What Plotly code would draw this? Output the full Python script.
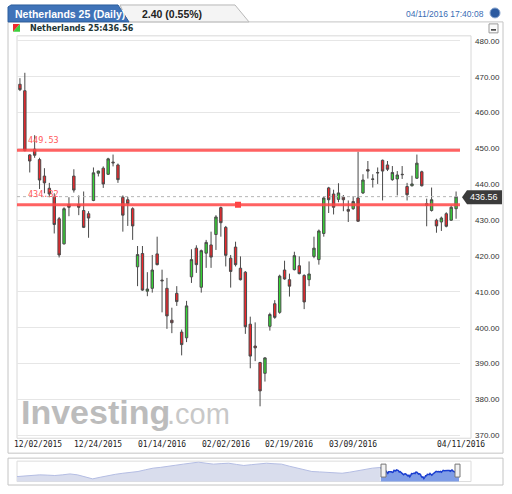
import pandas as pd
import numpy as np
import plotly.graph_objects as go

W, H = 512, 494

# trading days shown
days = pd.bdate_range("2015-12-02", "2016-04-11")
holidays = ["2015-12-25", "2016-01-01", "2016-03-25", "2016-03-28"]
days = [d for d in days if d.strftime("%Y-%m-%d") not in holidays]
dates = [d.strftime("%m/%d/%Y") for d in days]

opens = [467.9, 466.1, 448.2, 449.8, 446.9, 442.3, 438.9, 436.6, 430.4, 423.4,
         434.4, 442.3, 434.4, 432.7, 431.8, 435.5, 443.1, 444.5, 442.8, 446.2,
         445.4, 436.4, 435.7, 433.2, 417.0, 420.7, 410.2, 411.0, 420.6, 413.3,
         411.0, 402.1, 409.6, 398.8, 397.2, 414.2, 422.2, 411.3, 420.8, 423.1,
         426.0, 433.5, 428.0, 419.4, 422.5, 416.6, 415.5, 401.0, 394.9, 390.3,
         387.3, 400.4, 406.7, 404.3, 416.1, 413.4, 416.2, 417.3, 414.6, 413.4,
         419.9, 419.0, 426.3, 439.0, 437.3, 435.8, 436.4, 433.0, 433.2, 436.2,
         437.6, 444.1, 441.5, 443.3, 446.7, 445.4, 441.3, 441.5, 442.8, 439.4,
         439.6, 441.7, 443.5, 434.6, 432.7, 430.0, 429.5, 431.8, 430.0, 433.2]
highs = [469.6, 471.1, 448.4, 453.7, 447.4, 444.5, 440.4, 437.5, 430.9, 433.6,
         436.4, 444.2, 436.9, 438.0, 432.5, 444.7, 443.8, 445.0, 447.4, 448.3,
         445.8, 436.9, 436.5, 433.6, 422.8, 422.8, 415.5, 420.3, 425.4, 416.2,
         413.9, 405.6, 411.6, 399.5, 407.5, 421.9, 423.0, 421.8, 424.5, 426.8,
         431.4, 433.8, 428.4, 420.3, 424.0, 419.9, 415.8, 403.1, 401.5, 390.5,
         391.8, 404.2, 407.7, 414.8, 418.7, 415.1, 421.2, 419.9, 414.9, 418.5,
         425.4, 427.4, 436.6, 439.3, 438.5, 440.3, 437.0, 435.5, 436.7, 449.1,
         442.8, 446.5, 442.8, 444.7, 446.9, 446.5, 445.1, 443.7, 445.1, 440.4,
         442.4, 448.3, 443.8, 436.0, 439.1, 430.4, 431.0, 432.2, 434.1, 438.0]
lows = [466.0, 449.2, 443.3, 447.4, 438.7, 437.5, 436.4, 426.3, 419.6, 423.2,
        431.1, 437.7, 431.4, 427.8, 425.1, 435.3, 442.2, 439.0, 442.6, 445.0,
        440.4, 426.8, 428.4, 424.5, 411.6, 410.3, 408.8, 409.8, 417.4, 404.3,
        399.7, 398.5, 406.1, 392.3, 396.0, 412.5, 415.3, 409.8, 416.7, 416.7,
        421.7, 425.4, 417.1, 411.2, 417.1, 413.2, 398.3, 388.7, 390.7, 378.1,
        385.0, 399.2, 402.5, 403.9, 413.4, 408.7, 416.0, 414.9, 405.2, 411.6,
        419.4, 417.6, 425.4, 432.0, 431.6, 435.0, 432.5, 429.5, 432.9, 429.6,
        437.3, 441.6, 439.1, 440.1, 435.5, 443.7, 441.0, 436.9, 441.5, 435.5,
        439.4, 441.5, 439.4, 428.3, 432.4, 426.5, 427.0, 428.0, 429.8, 430.4]
closes = [466.4, 449.4, 446.5, 448.1, 441.2, 440.4, 437.3, 428.8, 420.3, 433.2,
          433.6, 438.4, 433.6, 428.0, 430.6, 443.2, 443.7, 440.1, 447.1, 446.0,
          441.3, 431.4, 434.6, 428.4, 420.4, 410.5, 410.8, 416.1, 417.6, 413.1,
          403.3, 401.4, 407.3, 395.3, 406.1, 419.0, 417.6, 421.5, 423.8, 419.7,
          430.9, 429.3, 420.2, 415.7, 417.6, 413.4, 400.3, 392.1, 394.4, 382.4,
          391.6, 403.7, 402.9, 414.4, 413.6, 411.6, 420.1, 415.1, 407.2, 415.0,
          422.2, 427.0, 436.2, 435.7, 433.6, 437.6, 435.7, 432.5, 435.2, 429.7,
          441.2, 443.7, 441.4, 443.2, 443.7, 444.2, 443.3, 442.6, 442.7, 437.1,
          440.1, 445.9, 439.6, 434.1, 435.7, 428.4, 430.6, 428.3, 433.6, 436.56]

# navigator history before the visible window (approx. levels)
nav_hist = [397, 401, 405, 410, 408, 405, 410, 417, 410, 397, 380, 392, 405, 414,
            422, 428, 435, 448, 460, 466, 472, 482, 490, 498, 505, 497, 490, 494,
            497, 488, 480, 486, 490, 497, 493, 490, 475, 460, 447, 435, 432, 430,
            426, 422, 430, 440, 452, 460, 465]

tick_dates = ["12/02/2015", "12/24/2015", "01/14/2016", "02/02/2016",
              "02/19/2016", "03/09/2016", "04/11/2016"]
y_ticks = [370, 380, 390, 400, 410, 420, 430, 440, 450, 460, 470, 480]
levels = [449.53, 434.32]
last_price = 436.56


def X(px):
    return px / W


def Y(py):
    return 1 - py / H


idx = list(range(len(dates)))

fig = go.Figure()

fig.add_trace(go.Candlestick(
    x=idx, open=opens, high=highs, low=lows, close=closes,
    increasing=dict(fillcolor="#36d636", line=dict(color="#4a4a4a", width=1)),
    decreasing=dict(fillcolor="#f0262b", line=dict(color="#4a4a4a", width=1)),
    whiskerwidth=0, showlegend=False, hoverinfo="skip"))

# alert marker on lower level
fig.add_trace(go.Scatter(x=[44.5], y=[levels[1]], mode="markers",
                         marker=dict(symbol="square", size=6, color="#ff4040"),
                         showlegend=False, hoverinfo="skip"))

# navigator
hist_x = np.linspace(-414, -1, len(nav_hist))
fig.add_trace(go.Scatter(x=hist_x, y=nav_hist, xaxis="x2", yaxis="y2",
                         mode="lines", line=dict(color="#b4bde3", width=1),
                         fill="tozeroy", fillcolor="#d9dded",
                         showlegend=False, hoverinfo="skip"))
fig.add_trace(go.Scatter(x=idx, y=closes, xaxis="x2", yaxis="y2",
                         mode="lines", line=dict(color="#1b3fd0", width=1.5),
                         fill="tozeroy", fillcolor="#7f9de6",
                         showlegend=False, hoverinfo="skip"))

shapes = []
# outer panels
shapes.append(dict(type="rect", xref="paper", yref="paper", x0=X(8), x1=X(503),
                   y0=Y(455), y1=Y(22), line=dict(color="#c4c4c4", width=1),
                   fillcolor="white", layer="below"))
shapes.append(dict(type="rect", xref="paper", yref="paper", x0=X(17), x1=X(471),
                   y0=Y(440), y1=Y(36), line=dict(color="#d8d8d8", width=1),
                   layer="below"))
shapes.append(dict(type="rect", xref="paper", yref="paper", x0=X(8), x1=X(503),
                   y0=Y(487), y1=Y(460), line=dict(color="#c4c4c4", width=1),
                   fillcolor="white", layer="below"))
shapes.append(dict(type="rect", xref="paper", yref="paper", x0=X(17), x1=X(471),
                   y0=Y(483.5), y1=Y(463), line=dict(color="#dcdcdc", width=1),
                   layer="below"))
# header tabs
shapes.append(dict(type="path", xref="paper", yref="paper",
                   path=f"M{X(120)},{Y(5)} L{X(235)},{Y(5)} L{X(249)},{Y(22)} L{X(128)},{Y(22)} Z",
                   fillcolor="#f4f4f4", line=dict(color="#b8b8b8", width=1)))
shapes.append(dict(type="path", xref="paper", yref="paper",
                   path=f"M{X(8)},{Y(22)} L{X(8)},{Y(7)} L{X(11)},{Y(5)} L{X(118)},{Y(5)} L{X(129)},{Y(22)} Z",
                   fillcolor="#3f73b8", line=dict(color="#2c5e9e", width=1)))
# small icons
shapes.append(dict(type="path", xref="paper", yref="paper",
                   path=f"M{X(13)},{Y(24)} L{X(20)},{Y(24)} L{X(13)},{Y(32)} Z",
                   fillcolor="#ee2a2e", line=dict(width=0)))
shapes.append(dict(type="path", xref="paper", yref="paper",
                   path=f"M{X(20)},{Y(24)} L{X(20)},{Y(32)} L{X(13)},{Y(32)} Z",
                   fillcolor="#3ccf3c", line=dict(width=0)))
shapes.append(dict(type="rect", xref="paper", yref="paper", x0=X(489), x1=X(498),
                   y0=Y(33), y1=Y(24), fillcolor="#fafafa",
                   line=dict(color="#9a9a9a", width=1)))
shapes.append(dict(type="line", xref="paper", yref="paper", x0=X(491), x1=X(496),
                   y0=Y(30), y1=Y(30), line=dict(color="#333", width=1.5)))
shapes.append(dict(type="circle", xref="paper", yref="paper", x0=X(490), x1=X(500),
                   y0=Y(18), y1=Y(8), fillcolor="#2b5aa0",
                   line=dict(color="#8aa6cf", width=1)))
# level lines and last price line
for lv in levels:
    shapes.append(dict(type="line", xref="x", yref="y", x0=-0.6, x1=89.8,
                       y0=lv, y1=lv, line=dict(color="rgba(255,70,70,0.85)", width=3)))
shapes.append(dict(type="line", xref="x", yref="y", x0=-0.6, x1=89.8,
                   y0=last_price, y1=last_price,
                   line=dict(color="#b5b5b5", width=1, dash="dot")))
# last price tag
shapes.append(dict(type="path", xref="paper", yref="paper",
                   path=f"M{X(462)},{Y(198)} L{X(467)},{Y(191)} L{X(502)},{Y(191)} L{X(502)},{Y(205)} L{X(467)},{Y(205)} Z",
                   fillcolor="#3b3b3b", line=dict(width=0)))
# navigator handles
for hx in (383.5, 457.5):
    shapes.append(dict(type="rect", xref="paper", yref="paper", x0=X(hx - 2.5),
                       x1=X(hx + 2.5), y0=Y(479), y1=Y(466), fillcolor="#f2f2f2",
                       line=dict(color="#777", width=1)))

ann = []
ann.append(dict(text="<b>Netherlands 25 (Daily)</b>", x=X(13), y=Y(14), xref="paper",
                yref="paper", xanchor="left", yanchor="middle", showarrow=False,
                font=dict(family="Liberation Sans", size=10.5, color="white")))
ann.append(dict(text="<b>2.40 (0.55%)</b>", x=X(140), y=Y(14), xref="paper",
                yref="paper", xanchor="left", yanchor="middle", showarrow=False,
                font=dict(family="Liberation Sans", size=10.5, color="#222")))
ann.append(dict(text="04/11/2016 17:40:08", x=X(486), y=Y(14), xref="paper",
                yref="paper", xanchor="right", yanchor="middle", showarrow=False,
                font=dict(family="Liberation Sans", size=8.5, color="#3a6db5")))
ann.append(dict(text="<b>Netherlands 25:436.56</b>", x=X(28), y=Y(28.5), xref="paper",
                yref="paper", xanchor="left", yanchor="middle", showarrow=False,
                font=dict(family="DejaVu Sans", size=8, color="#1d3535")))
# watermark
ann.append(dict(text="<b>Investing</b>", x=X(19), y=Y(414), xref="paper",
                yref="paper", xanchor="left", yanchor="middle", showarrow=False,
                font=dict(family="Liberation Sans", size=34, color="#bcbcbc")))
ann.append(dict(text=".com", x=X(165), y=Y(416), xref="paper",
                yref="paper", xanchor="left", yanchor="middle", showarrow=False,
                font=dict(family="Liberation Sans", size=29, color="#c8c8c8")))
# level labels
for lv, ly in zip(levels, (141, 195)):
    ann.append(dict(text=f"{lv:.2f}", x=X(26), y=Y(ly), xref="paper", yref="paper",
                    xanchor="left", yanchor="middle", showarrow=False,
                    font=dict(family="DejaVu Sans Mono", size=8.5, color="#ff5a5a")))
ann.append(dict(text=f"{last_price:.2f}", x=X(484), y=Y(198), xref="paper",
                yref="paper", xanchor="center", yanchor="middle", showarrow=False,
                font=dict(family="Liberation Sans", size=9, color="white")))
# date labels
for i, d in enumerate(tick_dates):
    pos = dates.index(d)
    anchor, shift = "center", 0
    if i == 0:
        anchor, shift = "left", -8
    elif i == len(tick_dates) - 1:
        anchor, shift = "right", 31
    ann.append(dict(text=d, x=pos, y=Y(446), xref="x", yref="paper", xanchor=anchor,
                    xshift=shift, yanchor="middle", showarrow=False,
                    font=dict(family="DejaVu Sans Mono", size=8, color="#222")))

fig.update_layout(
    width=W, height=H, autosize=False,
    margin=dict(l=0, r=0, t=0, b=0),
    paper_bgcolor="white", plot_bgcolor="rgba(0,0,0,0)",
    shapes=shapes, annotations=ann,
    xaxis=dict(domain=[X(17), X(460)], range=[-0.6, 89.8], showgrid=False,
               zeroline=False, showticklabels=False, rangeslider=dict(visible=False),
               fixedrange=True),
    yaxis=dict(domain=[Y(440), Y(36)], range=[369.2, 481.4], side="right",
               tickvals=y_ticks, tickformat=".2f", gridcolor="#e6e6e6",
               zeroline=False, ticklabelstandoff=14,
               tickfont=dict(family="Liberation Sans", size=8, color="#333")),
    xaxis2=dict(domain=[X(17), X(459)], range=[-414, 89], anchor="y2", visible=False),
    yaxis2=dict(domain=[Y(483.5), Y(463)], range=[360, 512.5], anchor="x2",
                visible=False),
)

fig.write_html("out.html", config={"displayModeBar": False},
               post_script="document.body.style.margin='0px';")
